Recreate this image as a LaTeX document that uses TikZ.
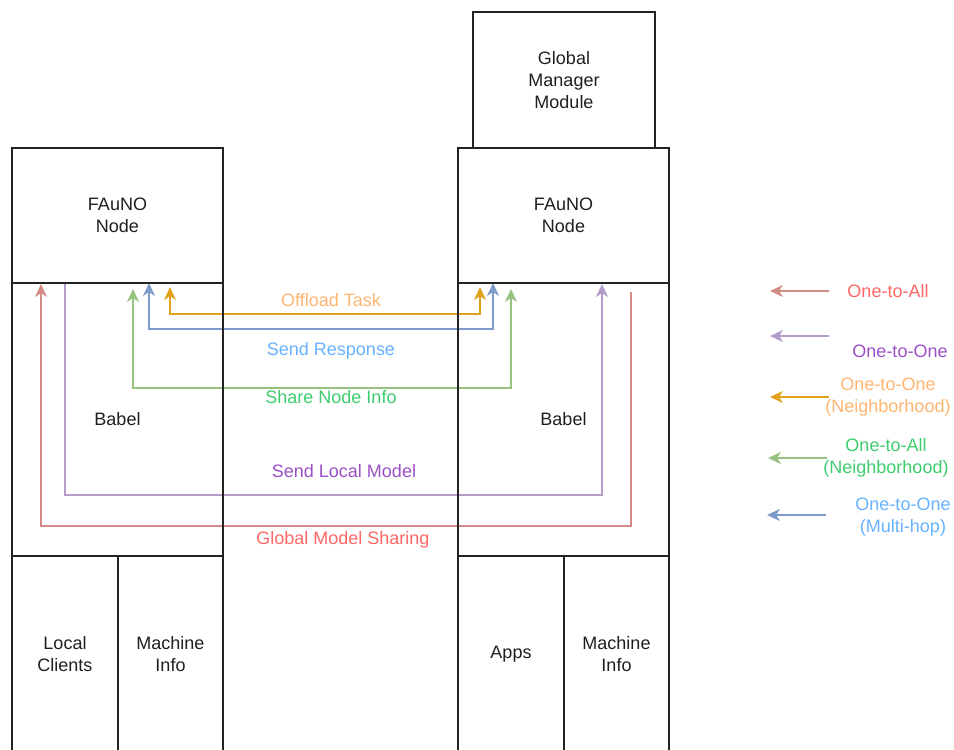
\documentclass[tikz,border=0pt]{standalone}
\usepackage{fontspec}
\setmainfont{Liberation Sans}
\usetikzlibrary{arrows.meta}
\definecolor{boxline}{HTML}{222222}
\definecolor{lred}{HTML}{D48A87}
\definecolor{lpurple}{HTML}{B69CC8}
\definecolor{lorange}{HTML}{E0A21C}
\definecolor{lgreen}{HTML}{98C27F}
\definecolor{lblue}{HTML}{7C9BCC}
\definecolor{tred}{HTML}{FF6666}
\definecolor{tpurple}{HTML}{9B4FC7}
\definecolor{torange}{HTML}{FFB570}
\definecolor{tgreen}{HTML}{3DCC6E}
\definecolor{tblue}{HTML}{66B2FF}
\tikzset{
  txt/.style={align=center, inner sep=0pt, font=\fontsize{18}{21.6}\selectfont},
  box/.style={txt, draw=boxline, line width=1.5pt, text=black!88, minimum width=#1},
  box/.default=211pt,
  tip/.tip={Stealth[length=13pt,width=12pt,inset=4pt]},
  conn/.style={line width=1.5pt, line join=miter, -tip},
  biconn/.style={line width=1.5pt, tip-tip},
}
\begin{document}
\begin{tikzpicture}[x=1pt,y=-1pt]
\useasboundingbox (0,0) rectangle (954,750);
% arrow end points
\coordinate (rS) at (631,292); \coordinate (rE) at (41,284);
\coordinate (pS) at (65,283);  \coordinate (pE) at (602,284);
\coordinate (oL) at (170,287); \coordinate (oR) at (480,287);
\coordinate (bL) at (149,283); \coordinate (bR) at (493,283);
\coordinate (gL) at (133,289); \coordinate (gR) at (511,289);
% connectors
\draw[conn, draw=lred] (rS) -- ++(0,234) -| (rE);
\draw[conn, draw=lpurple] (pS) -- ++(0,212) -| (pE);
\draw[biconn, draw=lorange] (oL) -- ++(0,27) -| (oR);
\draw[biconn, draw=lblue] (bL) -- ++(0,46) -| (bR);
\draw[biconn, draw=lgreen] (gL) -- ++(0,99) -| (gR);
% connector labels
\node[txt, text=torange] (lOff) at (331,300) {Offload Task};
\node[txt, text=tblue] (lResp) at (331,351) {Send Response};
\node[txt, text=tgreen] (lShare) at (331,397) {Share Node Info};
\node[txt, text=tpurple] (lLocal) at (344,471) {Send Local Model};
\node[txt, text=tred] (lGlob) at (343,540) {Global Model Sharing};
% boxes
\node[box=182pt, minimum height=136pt] (gmm) at (564,80) {Global\\Manager\\Module};
\node[box, minimum height=135pt] (fnL) at (117.5,215.5) {FAuNO\\Node};
\node[box, minimum height=273pt] (bbL) at (117.5,419.5) {Babel};
\node[box=106pt, minimum height=196pt] (lc) at (65,654) {Local\\Clients};
\node[box=105pt, minimum height=196pt] (miL) at (170.5,654) {Machine\\Info};
\node[box, minimum height=135pt] (fnR) at (563.5,215.5) {FAuNO\\Node};
\node[box, minimum height=273pt] (bbR) at (563.5,419.5) {Babel};
\node[box=106pt, minimum height=196pt] (apps) at (511,654) {Apps};
\node[box=105pt, minimum height=196pt] (miR) at (616.5,654) {Machine\\Info};
% legend
\coordinate (k1a) at (829,291); \coordinate (k1b) at (770,291);
\coordinate (k2a) at (829,336); \coordinate (k2b) at (770,336);
\coordinate (k3a) at (829,397); \coordinate (k3b) at (770,397);
\coordinate (k4a) at (827,458); \coordinate (k4b) at (768,458);
\coordinate (k5a) at (826,515); \coordinate (k5b) at (767,515);
\draw[conn, draw=lred] (k1a) -- (k1b);
\draw[conn, draw=lpurple] (k2a) -- (k2b);
\draw[conn, draw=lorange] (k3a) -- (k3b);
\draw[conn, draw=lgreen] (k4a) -- (k4b);
\draw[conn, draw=lblue] (k5a) -- (k5b);
\node[txt, text=tred] (t1) at (888,291) {One-to-All};
\node[txt, text=tpurple] (t2) at (900,351) {One-to-One};
\node[txt, text=torange] (t3) at (888,397) {One-to-One\\(Neighborhood)};
\node[txt, text=tgreen] (t4) at (886,458) {One-to-All\\(Neighborhood)};
\node[txt, text=tblue] (t5) at (903,517) {One-to-One\\(Multi-hop)};
\end{tikzpicture}
\end{document}
